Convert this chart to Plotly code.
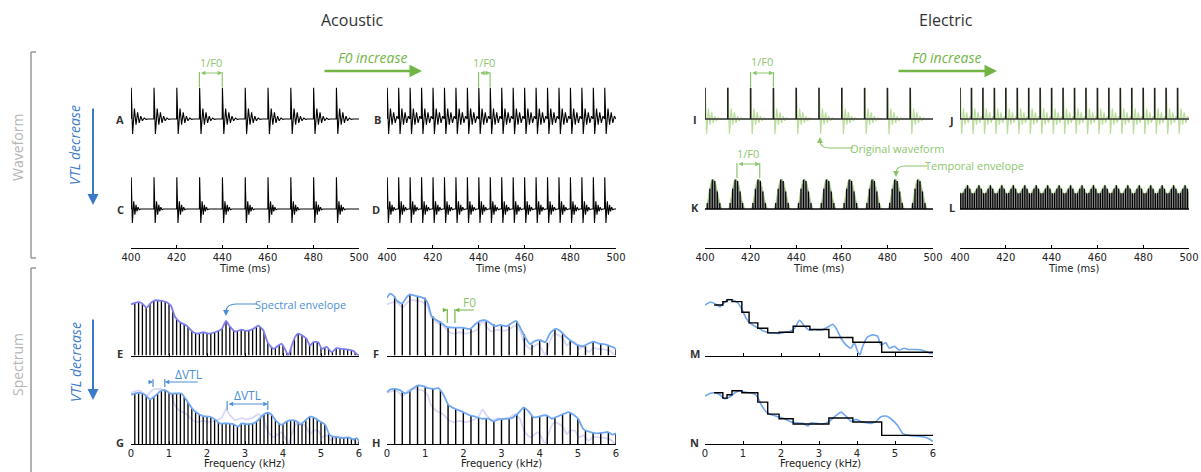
import plotly.graph_objects as go

W, H = 1201, 472

# ---------------- data ----------------
time_ticks = [400, 420, 440, 460, 480, 500]
freq_ticks = [0, 1, 2, 3, 4, 5, 6]
t_start, t_end = 400, 500

pulses_100hz = [400, 410, 420, 430, 440, 450, 460, 470, 480, 490]
pulses_200hz = [400, 405, 410, 415, 420, 425, 430, 435, 440, 445,
                450, 455, 460, 465, 470, 475, 480, 485, 490, 495]
period_100hz = 10
period_200hz = 5

# single glottal-pulse response (offset in ms, amplitude) for long and short vocal tract
long_vtl_t = [0.0, 0.1, 0.7, 1.5, 2.2, 2.9, 3.6, 4.3, 5.0, 5.8, 6.6, 7.5]
long_vtl_a = [0.0, 0.89, -0.43, 0.30, -0.16, 0.19, -0.11, 0.08, -0.05, 0.03, -0.01, 0.0]
short_vtl_t = [0.0, 0.1, 0.6, 1.2, 1.7, 2.2, 2.6, 3.1, 3.6, 4.2]
short_vtl_a = [0.0, 0.91, -0.40, 0.22, -0.16, 0.12, -0.07, 0.05, -0.02, 0.0]

electric_pulse_height = 0.89

# temporal envelope (K: 100 Hz, L: 200 Hz) and carrier pulses inside
k_env_t = [0.4, 1.2, 2.0, 2.8, 3.7, 4.6, 5.5, 6.4, 7.4]
k_env_a = [0.0, 0.22, 0.55, 0.80, 0.86, 0.76, 0.48, 0.20, 0.0]
k_carrier_t = [1.0, 2.1, 3.2, 4.3, 5.4, 6.5]
k_carrier_a = [0.17, 0.58, 0.84, 0.80, 0.50, 0.17]
l_env_t = [0.0, 0.8, 2.0, 3.2, 4.5]
l_env_a = [0.47, 0.43, 0.55, 0.69, 0.56]
l_carrier_t = [0.3, 1.3, 2.3, 3.3, 4.3]
l_carrier_a = [0.45, 0.46, 0.58, 0.68, 0.58]

# spectral envelopes (kHz, relative level)
E_env_f = [0.00, 0.15, 0.28, 0.41, 0.54, 0.63, 0.81, 0.94, 1.05, 1.16, 1.29, 1.46, 1.64, 1.77, 1.90, 2.04, 2.21,
           2.39, 2.50, 2.61, 2.74, 2.91, 3.04, 3.22, 3.35, 3.48, 3.61, 3.75, 3.88, 3.96, 4.05, 4.14, 4.23, 4.32,
           4.40, 4.54, 4.62, 4.71, 4.80, 4.93, 5.02, 5.15, 5.28, 5.41, 5.54, 5.72, 5.85, 5.94, 6.00]
E_env_a = [0.77, 0.80, 0.79, 0.72, 0.80, 0.83, 0.82, 0.80, 0.75, 0.58, 0.50, 0.45, 0.35, 0.33, 0.35, 0.33, 0.35,
           0.40, 0.52, 0.43, 0.36, 0.39, 0.37, 0.40, 0.45, 0.38, 0.18, 0.10, 0.15, 0.18, 0.10, 0.00, 0.15, 0.28,
           0.33, 0.29, 0.25, 0.15, 0.20, 0.20, 0.10, 0.13, 0.05, 0.11, 0.10, 0.09, 0.07, 0.02, 0.00]
G_env_f = [0.00, 0.11, 0.24, 0.37, 0.50, 0.63, 0.76, 0.89, 1.03, 1.20, 1.33, 1.46, 1.60, 1.73, 1.90, 2.08, 2.21,
           2.34, 2.52, 2.69, 2.82, 2.91, 3.04, 3.22, 3.35, 3.48, 3.60, 3.70, 3.83, 3.96, 4.10, 4.23, 4.36, 4.45,
           4.58, 4.71, 4.84, 4.97, 5.11, 5.22, 5.32, 5.46, 5.59, 5.72, 5.85, 5.94, 6.00]
G_env_a = [0.74, 0.76, 0.77, 0.74, 0.67, 0.72, 0.79, 0.81, 0.76, 0.76, 0.76, 0.66, 0.54, 0.47, 0.42, 0.41, 0.37,
           0.31, 0.31, 0.30, 0.26, 0.31, 0.30, 0.31, 0.36, 0.44, 0.47, 0.44, 0.34, 0.29, 0.34, 0.36, 0.34, 0.29,
           0.35, 0.41, 0.39, 0.34, 0.29, 0.14, 0.11, 0.10, 0.09, 0.10, 0.07, 0.09, 0.04]
F_env_f = [0.00, 0.08, 0.17, 0.25, 0.39, 0.52, 0.60, 0.73, 0.87, 1.00, 1.08, 1.17, 1.30, 1.43, 1.57, 1.74, 1.96,
           2.18, 2.31, 2.44, 2.57, 2.70, 2.83, 2.97, 3.14, 3.27, 3.38, 3.49, 3.62, 3.75, 3.88, 4.02, 4.15, 4.28,
           4.41, 4.54, 4.67, 4.80, 4.98, 5.15, 5.28, 5.40, 5.55, 5.68, 5.81, 5.94, 6.00]
F_env_a = [0.87, 0.93, 0.90, 0.83, 0.78, 0.88, 0.92, 0.90, 0.88, 0.85, 0.77, 0.59, 0.53, 0.49, 0.43, 0.42, 0.42,
           0.40, 0.47, 0.52, 0.53, 0.49, 0.44, 0.46, 0.44, 0.49, 0.52, 0.42, 0.27, 0.17, 0.22, 0.23, 0.20, 0.34,
           0.40, 0.37, 0.29, 0.23, 0.16, 0.14, 0.18, 0.21, 0.18, 0.17, 0.15, 0.12, 0.09]
H_env_f = [0.00, 0.08, 0.21, 0.34, 0.47, 0.59, 0.69, 0.82, 0.95, 1.08, 1.22, 1.35, 1.48, 1.61, 1.78, 1.96, 2.13,
           2.31, 2.48, 2.66, 2.79, 2.92, 3.10, 3.27, 3.45, 3.58, 3.71, 3.84, 3.97, 4.10, 4.19, 4.32, 4.45, 4.58,
           4.76, 4.89, 5.02, 5.15, 5.33, 5.50, 5.68, 5.79, 5.90, 6.00]
H_env_a = [0.78, 0.82, 0.83, 0.81, 0.76, 0.79, 0.84, 0.88, 0.87, 0.84, 0.83, 0.84, 0.74, 0.59, 0.53, 0.49, 0.44,
           0.41, 0.38, 0.38, 0.34, 0.37, 0.38, 0.39, 0.47, 0.55, 0.49, 0.40, 0.41, 0.43, 0.43, 0.38, 0.41, 0.44,
           0.48, 0.44, 0.37, 0.22, 0.18, 0.16, 0.17, 0.18, 0.14, 0.16]
M_env_f = [0.00, 0.13, 0.26, 0.39, 0.48, 0.61, 0.74, 0.87, 1.00, 1.09, 1.18, 1.31, 1.44, 1.57, 1.70, 1.83, 1.96,
           2.10, 2.23, 2.36, 2.49, 2.62, 2.75, 2.88, 3.01, 3.14, 3.27, 3.36, 3.45, 3.58, 3.71, 3.84, 3.93, 4.02,
           4.08, 4.15, 4.28, 4.41, 4.54, 4.63, 4.76, 4.85, 4.98, 5.11, 5.24, 5.37, 5.55, 5.72, 5.85, 5.94, 6.00]
M_env_a = [0.76, 0.80, 0.78, 0.73, 0.78, 0.84, 0.83, 0.79, 0.66, 0.55, 0.49, 0.44, 0.40, 0.36, 0.34, 0.34, 0.33,
           0.35, 0.36, 0.41, 0.53, 0.44, 0.38, 0.39, 0.38, 0.40, 0.44, 0.47, 0.41, 0.26, 0.16, 0.11, 0.19, 0.06,
           0.01, 0.14, 0.28, 0.31, 0.29, 0.16, 0.19, 0.11, 0.14, 0.08, 0.11, 0.09, 0.09, 0.08, 0.05, 0.03, 0.03]
N_env_f = [0.00, 0.13, 0.26, 0.39, 0.52, 0.66, 0.79, 0.92, 1.05, 1.18, 1.31, 1.40, 1.48, 1.62, 1.75, 1.92, 2.10,
           2.23, 2.40, 2.58, 2.71, 2.79, 2.93, 3.10, 3.27, 3.45, 3.58, 3.71, 3.84, 3.97, 4.10, 4.24, 4.37, 4.50,
           4.63, 4.76, 4.89, 5.07, 5.20, 5.37, 5.55, 5.72, 5.85, 5.94, 6.00]
N_env_a = [0.72, 0.76, 0.77, 0.74, 0.68, 0.71, 0.77, 0.80, 0.78, 0.77, 0.75, 0.69, 0.59, 0.48, 0.44, 0.41, 0.38,
           0.34, 0.32, 0.31, 0.27, 0.32, 0.31, 0.30, 0.34, 0.43, 0.48, 0.42, 0.34, 0.37, 0.34, 0.32, 0.31, 0.34,
           0.41, 0.42, 0.38, 0.28, 0.16, 0.13, 0.12, 0.11, 0.09, 0.06, 0.04]

# harmonics (kHz) and their levels
harm_100hz = [0.1, 0.2, 0.3, 0.4, 0.5, 0.6, 0.7, 0.8, 0.9, 1.0, 1.1, 1.2, 1.3, 1.4, 1.5, 1.6, 1.7, 1.8, 1.9, 2.0,
              2.1, 2.2, 2.3, 2.4, 2.5, 2.6, 2.7, 2.8, 2.9, 3.0, 3.1, 3.2, 3.3, 3.4, 3.5, 3.6, 3.7, 3.8, 3.9, 4.0,
              4.1, 4.2, 4.3, 4.4, 4.5, 4.6, 4.7, 4.8, 4.9, 5.0, 5.1, 5.2, 5.3, 5.4, 5.5, 5.6, 5.7, 5.8, 5.9, 6.0]
E_harm = [0.79, 0.80, 0.78, 0.73, 0.78, 0.82, 0.83, 0.82, 0.81, 0.77,
          0.67, 0.56, 0.50, 0.47, 0.43, 0.37, 0.34, 0.33, 0.35, 0.34,
          0.34, 0.35, 0.38, 0.41, 0.52, 0.44, 0.38, 0.37, 0.39, 0.38,
          0.38, 0.40, 0.43, 0.43, 0.35, 0.20, 0.13, 0.12, 0.16, 0.15,
          0.04, 0.10, 0.25, 0.33, 0.30, 0.26, 0.16, 0.20, 0.20, 0.12,
          0.12, 0.10, 0.06, 0.11, 0.10, 0.10, 0.09, 0.08, 0.04, 0.01]
G_harm = [0.76, 0.77, 0.76, 0.72, 0.67, 0.71, 0.76, 0.80, 0.81, 0.77,
          0.76, 0.76, 0.76, 0.71, 0.63, 0.54, 0.49, 0.45, 0.42, 0.41,
          0.40, 0.37, 0.33, 0.31, 0.31, 0.30, 0.30, 0.27, 0.30, 0.30,
          0.30, 0.31, 0.34, 0.39, 0.45, 0.47, 0.44, 0.36, 0.31, 0.30,
          0.34, 0.36, 0.35, 0.32, 0.31, 0.36, 0.41, 0.40, 0.37, 0.33,
          0.29, 0.17, 0.12, 0.10, 0.10, 0.09, 0.10, 0.08, 0.08, 0.04]
harm_200hz = [0.2, 0.4, 0.6, 0.8, 1.0, 1.2, 1.4, 1.6, 1.8, 2.0, 2.2, 2.4, 2.6, 2.8, 3.0,
              3.2, 3.4, 3.6, 3.8, 4.0, 4.2, 4.4, 4.6, 4.8, 5.0, 5.2, 5.4, 5.6, 5.8, 6.0]
F_harm = [0.89, 0.78, 0.92, 0.89, 0.87, 0.59, 0.51, 0.43, 0.42, 0.42, 0.40, 0.50, 0.53, 0.47, 0.46,
          0.44, 0.52, 0.32, 0.16, 0.23, 0.19, 0.39, 0.34, 0.23, 0.16, 0.14, 0.20, 0.18, 0.15, 0.09]
H_harm = [0.83, 0.79, 0.80, 0.88, 0.86, 0.83, 0.80, 0.60, 0.53, 0.48, 0.43, 0.39, 0.38, 0.34, 0.37,
          0.38, 0.45, 0.54, 0.43, 0.41, 0.43, 0.40, 0.44, 0.47, 0.38, 0.21, 0.17, 0.17, 0.18, 0.16]

# CI channel edges (kHz) and channel levels
ci_edges = [0.24, 0.47, 0.58, 0.71, 0.97, 1.16, 1.39, 1.65, 1.95, 2.32, 2.76, 3.26, 3.89, 4.65, 6.00]
M_levels = [0.76, 0.81, 0.84, 0.81, 0.65, 0.49, 0.41, 0.34, 0.35, 0.44, 0.39, 0.27, 0.20, 0.05]
N_levels = [0.77, 0.69, 0.74, 0.80, 0.77, 0.77, 0.63, 0.45, 0.38, 0.30, 0.30, 0.39, 0.33, 0.13]

# ---------------- styles ----------------
GREEN = '#72b545'
GREEN_LIGHT = '#8dc56c'
GREEN_WAVE = 'rgba(141,198,90,0.6)'
BLUE_ENV = '#6fa7f0'
PURPLE_ENV = '#7f7ef0'
FAINT_ENV = 'rgba(160,155,235,0.40)'
BLUE_ANNO = '#4d8fd6'
VTL_BLUE = '#3a7bc8'


def P(px):
    return px / W


def Q(py):
    return 1 - py / H


def xa(k):
    return 'x' if k == 1 else f'x{k}'


def ya(k):
    return 'y' if k == 1 else f'y{k}'


def xkey(k):
    return 'xaxis' if k == 1 else f'xaxis{k}'


def ykey(k):
    return 'yaxis' if k == 1 else f'yaxis{k}'


cols = {1: (131, 359), 2: (387, 616), 3: (705, 933), 4: (960, 1189)}
wave_rows = {1: (84, 154), 2: (174, 244)}
spec_rows = {1: (289, 355.5), 2: (377.5, 444)}
panels = {
    'A': (1, 1, 'w', 1), 'C': (2, 1, 'w', 2), 'E': (3, 1, 's', 1), 'G': (4, 1, 's', 2),
    'B': (5, 2, 'w', 1), 'D': (6, 2, 'w', 2), 'F': (7, 2, 's', 1), 'H': (8, 2, 's', 2),
    'I': (9, 3, 'w', 1), 'K': (10, 3, 'w', 2), 'M': (11, 3, 's', 1), 'N': (12, 3, 's', 2),
    'J': (13, 4, 'w', 1), 'L': (14, 4, 'w', 2),
}
PI = {L: v[0] for L, v in panels.items()}

fig = go.Figure()
layout_axes = {}
tick_font = dict(family='DejaVu Sans', size=10, color='#222')
for letter, (k, c, kind, r) in panels.items():
    x0, x1 = cols[c]
    base = dict(domain=[P(x0), P(x1)], showgrid=False, zeroline=False, showline=True,
                linecolor='black', linewidth=1, ticks='inside', ticklen=3, tickwidth=1,
                tickcolor='black', tickfont=tick_font, fixedrange=True, anchor=ya(k),
                automargin=False)
    if kind == 'w':
        t0, t1 = wave_rows[r]
        yrange = [-1, 1]
        base['range'] = [t_start, t_end]
        if r == 1:
            base['visible'] = False
        else:
            base.update(anchor='free', position=Q(248), tickvals=time_ticks,
                        ticktext=[str(v) for v in time_ticks], showticklabels=True)
    else:
        t0, t1 = spec_rows[r]
        yrange = [0, 1]
        base.update(range=[freq_ticks[0], freq_ticks[-1]], tickvals=freq_ticks,
                    ticktext=[str(v) for v in freq_ticks], showticklabels=(r == 2))
    layout_axes[xkey(k)] = base
    layout_axes[ykey(k)] = dict(domain=[Q(t1), Q(t0)], range=yrange, visible=False,
                                anchor=xa(k), fixedrange=True)


def add(k, **kw):
    kw.setdefault('mode', 'lines')
    kw.setdefault('hoverinfo', 'skip')
    fig.add_trace(go.Scatter(xaxis=xa(k), yaxis=ya(k), showlegend=False, **kw))


def wave(pulses, period, tt, aa):
    xs, ys = [], []
    for p in pulses:
        for o, a in zip(tt, aa):
            if o < period:
                xs.append(p + o)
                ys.append(a)
    xs.append(t_end)
    ys.append(0.0)
    return xs, ys


def sticks(xpos, heights, base=0.0):
    xs, ys = [], []
    for x, h in zip(xpos, heights):
        xs += [x, x, None]
        ys += [base, h, None]
    return xs, ys


# ---- acoustic waveforms ----
for L, pulses, period, tt, aa in [
        ('A', pulses_100hz, period_100hz, long_vtl_t, long_vtl_a),
        ('B', pulses_200hz, period_200hz, long_vtl_t, long_vtl_a),
        ('C', pulses_100hz, period_100hz, short_vtl_t, short_vtl_a),
        ('D', pulses_200hz, period_200hz, short_vtl_t, short_vtl_a)]:
    xs, ys = wave(pulses, period, tt, aa)
    add(PI[L], x=xs, y=ys, line=dict(color='black', width=1.1))

# ---- electric pulse trains (I, J) ----
for L, pulses, period in [('I', pulses_100hz, period_100hz), ('J', pulses_200hz, period_200hz)]:
    xs, ys = wave(pulses, period, long_vtl_t, long_vtl_a)
    add(PI[L], x=xs, y=ys, line=dict(color=GREEN_WAVE, width=1.2))
    add(PI[L], x=[t_start, t_end], y=[0, 0], line=dict(color='#333', width=1.6))
    xs, ys = sticks(pulses, [electric_pulse_height] * len(pulses))
    add(PI[L], x=xs, y=ys, line=dict(color='#222', width=1.6))

# ---- temporal envelope K ----
xs, ys = [], []
for p in pulses_100hz:
    xs += [p + o for o in k_env_t] + [None]
    ys += list(k_env_a) + [None]
add(PI['K'], x=xs, y=ys, fill='toself', fillcolor='#8a8a8a', line=dict(color='#a8d889', width=1))
cx, cy = [], []
for p in pulses_100hz:
    cx += [p + o for o in k_carrier_t]
    cy += list(k_carrier_a)
xs, ys = sticks(cx, cy)
add(PI['K'], x=xs, y=ys, line=dict(color='black', width=1.2))
add(PI['K'], x=[t_start, t_end], y=[0, 0], line=dict(color='black', width=1.4))

# ---- temporal envelope L ----
ex, ey = [t_start], [0.0]
for p in pulses_200hz:
    ex += [p + o for o in l_env_t]
    ey += list(l_env_a)
ex += [t_end, t_end]
ey += [l_env_a[0], 0.0]
add(PI['L'], x=ex, y=ey, fill='toself', fillcolor='#8a8a8a', line=dict(color='#a8d889', width=1))
cx, cy = [], []
for p in pulses_200hz:
    cx += [p + o for o in l_carrier_t]
    cy += list(l_carrier_a)
xs, ys = sticks(cx, cy)
add(PI['L'], x=xs, y=ys, line=dict(color='black', width=1.2))
add(PI['L'], x=[t_start, t_end], y=[0, 0], line=dict(color='black', width=1.4))

# ---- spectra ----
spl = dict(shape='spline', smoothing=0.5)
# E
xs, ys = sticks(harm_100hz, E_harm)
add(PI['E'], x=xs, y=ys, line=dict(color='black', width=1.3))
add(PI['E'], x=E_env_f, y=E_env_a, line=dict(color=PURPLE_ENV, width=1.8, **spl))
# G
add(PI['G'], x=E_env_f, y=E_env_a, line=dict(color=FAINT_ENV, width=1.8, **spl))
xs, ys = sticks(harm_100hz, G_harm)
add(PI['G'], x=xs, y=ys, line=dict(color='black', width=1.3))
add(PI['G'], x=G_env_f, y=G_env_a, line=dict(color=BLUE_ENV, width=1.8, **spl))
# F
add(PI['F'], x=E_env_f, y=E_env_a, line=dict(color=FAINT_ENV, width=1.8, **spl))
xs, ys = sticks(harm_200hz, F_harm)
add(PI['F'], x=xs, y=ys, line=dict(color='black', width=1.4))
add(PI['F'], x=F_env_f, y=F_env_a, line=dict(color=BLUE_ENV, width=1.8, **spl))
# H
add(PI['H'], x=E_env_f, y=E_env_a, line=dict(color=FAINT_ENV, width=1.8, **spl))
xs, ys = sticks(harm_200hz, H_harm)
add(PI['H'], x=xs, y=ys, line=dict(color='black', width=1.4))
add(PI['H'], x=H_env_f, y=H_env_a, line=dict(color=BLUE_ENV, width=1.8, **spl))
# M, N
for L, ef, ea, lev in [('M', M_env_f, M_env_a, M_levels), ('N', N_env_f, N_env_a, N_levels)]:
    add(PI[L], x=ef, y=ea, line=dict(color=BLUE_ENV, width=1.6, **spl))
    add(PI[L], x=ci_edges, y=lev + [lev[-1]], line=dict(color='black', width=1.4, shape='hv'))

# ---------------- annotations ----------------
annotations = []
shapes = []


def text(px, py, s, size, color, family='Open Sans', angle=0):
    annotations.append(dict(x=P(px), y=Q(py), xref='paper', yref='paper', text=s, showarrow=False,
                            font=dict(family=family, size=size, color=color), textangle=angle,
                            xanchor='center', yanchor='middle'))


def arrow_px(hx, hy, tx, ty, color, width, size=1.0, both=False):
    annotations.append(dict(x=P(hx), y=Q(hy), xref='paper', yref='paper', ax=tx - hx, ay=ty - hy,
                            axref='pixel', ayref='pixel', showarrow=True, text='', arrowhead=2,
                            arrowsize=size, arrowwidth=width, arrowcolor=color,
                            arrowside='end+start' if both else 'end', startarrowhead=2,
                            startarrowsize=size, standoff=0, startstandoff=0))


def arrow_data(k, xh, xt, py, color, width=1.0, size=1.0, both=False):
    annotations.append(dict(x=xh, y=Q(py), xref=xa(k), yref='paper', ax=xt, ay=0,
                            axref=xa(k), ayref='pixel', showarrow=True, text='', arrowhead=2,
                            arrowsize=size, arrowwidth=width, arrowcolor=color,
                            arrowside='end+start' if both else 'end', startarrowhead=2,
                            startarrowsize=size, standoff=0, startstandoff=0))


def seg_px(x0, y0, x1, y1, color, width):
    shapes.append(dict(type='line', xref='paper', yref='paper', x0=P(x0), y0=Q(y0), x1=P(x1), y1=Q(y1),
                       line=dict(color=color, width=width)))


def vseg_data(k, x, py0, py1, color, width=1.0):
    shapes.append(dict(type='line', xref=xa(k), yref='paper', x0=x, x1=x, y0=Q(py0), y1=Q(py1),
                       line=dict(color=color, width=width)))


def curve_px(pts, color, width=1.0):
    (x0, y0), (x1, y1), (cxp, cyp), (x2, y2) = pts
    path = (f"M {P(x0)},{Q(y0)} L {P(x1)},{Q(y1)} Q {P(cxp)},{Q(cyp)} {P(x2)},{Q(y2)}")
    shapes.append(dict(type='path', xref='paper', yref='paper', path=path,
                       line=dict(color=color, width=width)))


# titles
text(352, 20, 'Acoustic', 16, '#333')
text(946, 20, 'Electric', 16, '#333')
text(17, 148, 'Waveform', 14, '#b5b5b5', angle=-90)
text(17, 365, 'Spectrum', 14, '#b5b5b5', angle=-90)
text(75, 145, '<i>VTL decrease</i>', 14, VTL_BLUE, angle=-90)
text(75, 362, '<i>VTL decrease</i>', 14, VTL_BLUE, angle=-90)
arrow_px(93, 205, 93, 107, VTL_BLUE, 2, 1.1)
arrow_px(93, 400, 93, 318, VTL_BLUE, 2, 1.1)
# brackets on the left
seg_px(31, 52, 31, 258, '#999', 1.5)
seg_px(31, 52, 36, 52, '#999', 1.5)
seg_px(31, 258, 36, 258, '#999', 1.5)
seg_px(31, 268, 31, 472, '#999', 1.5)
seg_px(31, 268, 36, 268, '#999', 1.5)

# F0 increase
text(372, 57, '<i>F0 increase</i>', 14, GREEN)
arrow_px(422, 71, 323, 71, GREEN, 2.5, 1.0)
text(946, 57, '<i>F0 increase</i>', 14, GREEN)
arrow_px(997, 71, 897, 71, GREEN, 2.5, 1.0)

# 1/F0 brackets
for L, ta, tb, ytxt, ytop, ybot in [('A', 430, 440, 63, 72, 87), ('B', 440, 445, 63, 72, 87),
                                    ('I', 420, 430, 62, 72, 87), ('K', 414, 424, 153, 163, 178)]:
    k = PI[L]
    vseg_data(k, ta, ytop, ybot, GREEN_LIGHT, 1.2)
    vseg_data(k, tb, ytop, ybot, GREEN_LIGHT, 1.2)
    arrow_data(k, tb, ta, ytop + 1, GREEN_LIGHT, 1.0, 0.9, both=True)
    c0, c1 = cols[panels[L][1]]
    text(c0 + ((ta + tb) / 2 - t_start) / (t_end - t_start) * (c1 - c0), ytxt, '1/F0', 11, GREEN_LIGHT)

# Original waveform / Temporal envelope labels
text(897, 148, 'Original waveform', 11, GREEN_LIGHT)
curve_px([(853, 148), (830, 148), (821, 148), (820, 142)], GREEN_LIGHT, 1.2)
arrow_px(820, 137, 820, 143, GREEN_LIGHT, 1.2, 1.0)
text(974, 166, 'Temporal envelope', 11, GREEN_LIGHT)
curve_px([(927, 166), (905, 166), (897, 166), (896, 172)], GREEN_LIGHT, 1.2)
arrow_px(896, 177, 896, 171, GREEN_LIGHT, 1.2, 1.0)

# Spectral envelope label
text(300, 304, 'Spectral envelope', 11, BLUE_ANNO)
curve_px([(257, 304), (236, 304), (227, 304), (226, 311)], BLUE_ANNO, 1.2)
arrow_px(226, 316, 226, 310, BLUE_ANNO, 1.2, 1.0)

# F0 in spectrum F
kF = PI['F']
vseg_data(kF, 1.58, 309, 323, GREEN, 1.2)
vseg_data(kF, 1.78, 309, 323, GREEN, 1.2)
arrow_data(kF, 1.58, 1.44, 310, GREEN, 1.0, 0.9)
arrow_data(kF, 1.78, 2.31, 310, GREEN, 1.0, 0.9)
text(469, 302, 'F0', 12, GREEN_LIGHT)

# delta VTL in G
kG = PI['G']
vseg_data(kG, 0.58, 379, 387, BLUE_ANNO, 1.2)
vseg_data(kG, 0.89, 379, 387, BLUE_ANNO, 1.2)
arrow_data(kG, 0.58, 0.42, 382, BLUE_ANNO, 1.0, 0.9)
arrow_data(kG, 0.89, 1.8, 382, BLUE_ANNO, 1.0, 0.9)
text(189, 374, 'ΔVTL', 12, BLUE_ANNO)
vseg_data(kG, 2.53, 401, 410, BLUE_ANNO, 1.2)
vseg_data(kG, 3.6, 401, 410, BLUE_ANNO, 1.2)
arrow_data(kG, 3.6, 2.53, 404, BLUE_ANNO, 1.0, 0.9, both=True)
text(247, 395, 'ΔVTL', 12, BLUE_ANNO)

# panel letters
letter_pos = {'A': (120, 119), 'B': (377, 119), 'C': (120, 209), 'D': (376, 209),
              'E': (120, 353), 'F': (376, 353), 'G': (120, 442), 'H': (376, 442),
              'I': (695, 119), 'J': (951, 120), 'K': (695, 208), 'L': (952, 208),
              'M': (695, 353), 'N': (695, 442)}
for L, (px, py) in letter_pos.items():
    text(px, py, f'<b>{L}</b>', 11, '#333')

# axis titles
for px in [245, 501, 819, 1074]:
    text(px, 268, 'Time (ms)', 10, '#222', family='DejaVu Sans')
for px in [245, 501, 820]:
    text(px, 463, 'Frequency (kHz)', 10, '#222', family='DejaVu Sans')

fig.update_layout(width=W, height=H, margin=dict(l=0, r=0, t=0, b=0, pad=0, autoexpand=False),
                  autosize=False, paper_bgcolor='white', plot_bgcolor='white', showlegend=False,
                  annotations=annotations, shapes=shapes, **layout_axes)

fig.write_html('out.html', config={'displayModeBar': False},
               post_script="document.body.style.margin='0';document.body.style.overflow='hidden';")
